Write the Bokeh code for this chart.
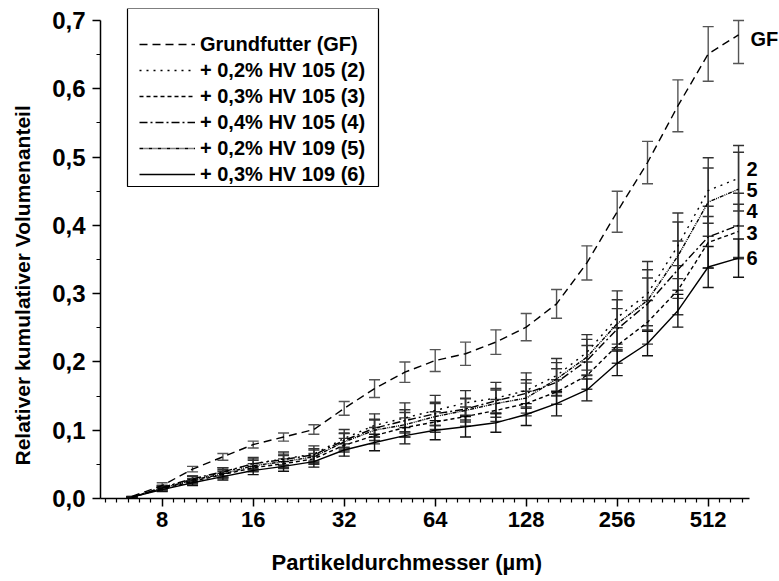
from bokeh.plotting import figure
from bokeh.models import (Range1d, FixedTicker, CustomJSTickFormatter, ColumnDataSource,
                          Whisker, TeeHead, Legend, LegendItem, Label, Title, BoxAnnotation)
from bokeh.embed import file_html
from bokeh.resources import INLINE

# ---------------- data ----------------
diameter_um = [6.35, 8.0, 10.08, 12.7, 16.0, 20.16, 25.4, 32.0, 40.32, 50.8, 64.0, 80.63,
               101.6, 128.0, 161.3, 203.2, 256.0, 322.5, 406.4, 512.0, 645.1]

gf_mean = [0.003, 0.019, 0.043, 0.061, 0.079, 0.090, 0.101, 0.132, 0.161, 0.185, 0.202, 0.212,
           0.229, 0.251, 0.285, 0.345, 0.420, 0.492, 0.575, 0.651, 0.679]
gf_err = [0.0, 0.004, 0.004, 0.005, 0.005, 0.006, 0.007, 0.010, 0.013, 0.015, 0.016, 0.017,
          0.018, 0.020, 0.021, 0.025, 0.030, 0.031, 0.038, 0.040, 0.042]

s2_mean = [0.002, 0.016, 0.028, 0.038, 0.051, 0.058, 0.065, 0.088, 0.107, 0.118, 0.129, 0.140,
           0.147, 0.158, 0.180, 0.214, 0.265, 0.300, 0.370, 0.451, 0.469]
s2_err = [0.0, 0.003, 0.005, 0.007, 0.009, 0.010, 0.012, 0.013, 0.017, 0.022, 0.022, 0.018,
          0.023, 0.026, 0.025, 0.026, 0.039, 0.047, 0.048, 0.048, 0.048]

s3_mean = [0.002, 0.014, 0.025, 0.035, 0.045, 0.051, 0.058, 0.078, 0.092, 0.104, 0.112, 0.120,
           0.129, 0.139, 0.156, 0.180, 0.224, 0.258, 0.305, 0.375, 0.391]
s3_err = [0.0, 0.003, 0.004, 0.005, 0.006, 0.007, 0.008, 0.010, 0.012, 0.014, 0.015, 0.014,
          0.016, 0.018, 0.018, 0.020, 0.026, 0.032, 0.036, 0.038, 0.040]

s4_mean = [0.002, 0.016, 0.029, 0.039, 0.051, 0.057, 0.064, 0.085, 0.103, 0.114, 0.124, 0.131,
           0.143, 0.154, 0.170, 0.202, 0.248, 0.285, 0.335, 0.383, 0.400]
s4_err = [0.0, 0.003, 0.004, 0.006, 0.007, 0.008, 0.009, 0.011, 0.013, 0.016, 0.017, 0.016,
          0.018, 0.020, 0.020, 0.022, 0.030, 0.038, 0.042, 0.045, 0.047]

s5_mean = [0.002, 0.015, 0.027, 0.036, 0.048, 0.054, 0.061, 0.083, 0.100, 0.108, 0.120, 0.129,
           0.139, 0.147, 0.175, 0.207, 0.256, 0.290, 0.355, 0.434, 0.453]
s5_err = [0.0, 0.003, 0.005, 0.006, 0.008, 0.009, 0.010, 0.012, 0.015, 0.018, 0.019, 0.017,
          0.020, 0.022, 0.024, 0.026, 0.035, 0.045, 0.050, 0.050, 0.054]

s6_mean = [0.002, 0.013, 0.023, 0.032, 0.041, 0.047, 0.054, 0.071, 0.082, 0.092, 0.100, 0.105,
           0.111, 0.123, 0.139, 0.159, 0.198, 0.227, 0.275, 0.339, 0.352]
s6_err = [0.0, 0.003, 0.004, 0.005, 0.006, 0.007, 0.008, 0.009, 0.012, 0.012, 0.014, 0.015,
          0.014, 0.016, 0.018, 0.016, 0.018, 0.018, 0.024, 0.030, 0.028]

legend_labels = ["Grundfutter (GF)", "+ 0,2% HV 105 (2)", "+ 0,3% HV 105 (3)",
                 "+ 0,4% HV 105 (4)", "+ 0,2% HV 109 (5)", "+ 0,3% HV 109 (6)"]
end_labels = ["GF", "2", "3", "4", "5", "6"]

x_ticks = [8, 16, 32, 64, 128, 256, 512]
y_ticks = [0.0, 0.1, 0.2, 0.3, 0.4, 0.5, 0.6, 0.7]
x_title = "Partikeldurchmesser (µm)"
y_title = "Relativer kumulativer Volumenanteil"

# ---------------- styles / layout ----------------
FONT = "Liberation Sans"
dashes = ["8 5", "2 5", "4 3", "8 3 2 3", "4 1 1 1 1 1", "solid"]
bar_colors = ["#555555", "#333333", "#333333", "#333333", "#333333", "#111111"]
label_dy = [-4, 9, -1, 14, -1, 0]   # pixel shift (up positive) of end labels
label_dx = [12, 8, 8, 8, 8, 8]

X_AXIS_START, X_AXIS_END = 5.0, 700.0
Y_AXIS_START, Y_AXIS_END = 0.0, 0.7
PX_PER_OCTAVE = 91.0
FRAME_LEFT, FRAME_RIGHT = 100, 779
FRAME_TOP, AXIS_TOP, FRAME_BOTTOM = 8, 20, 498
x_view_end = X_AXIS_START * 2 ** ((FRAME_RIGHT - FRAME_LEFT) / PX_PER_OCTAVE)
y_view_end = Y_AXIS_END * (FRAME_BOTTOM - FRAME_TOP) / (FRAME_BOTTOM - AXIS_TOP)

series = [(gf_mean, gf_err), (s2_mean, s2_err), (s3_mean, s3_err),
          (s4_mean, s4_err), (s5_mean, s5_err), (s6_mean, s6_err)]

p = figure(width=779, height=581, x_axis_type="log",
           x_range=Range1d(X_AXIS_START, x_view_end), y_range=Range1d(Y_AXIS_START, y_view_end),
           output_backend="svg", toolbar_location=None,
           min_border_left=FRAME_LEFT, min_border_right=779 - FRAME_RIGHT,
           min_border_top=FRAME_TOP, min_border_bottom=581 - FRAME_BOTTOM)
p.outline_line_color = None
p.xgrid.visible = False
p.ygrid.visible = False
p.background_fill_color = "white"
p.border_fill_color = "white"

# legend frame (screen units, relative to the plot frame, measured from its bottom-left)
p.add_layout(BoxAnnotation(left=27, right=278, bottom=FRAME_BOTTOM - 186, top=FRAME_BOTTOM - 8,
                           left_units="screen", right_units="screen",
                           bottom_units="screen", top_units="screen",
                           fill_color="white", fill_alpha=1.0,
                           line_color="black", line_alpha=1.0, line_width=1.2,
                           level="annotation"))

legend_items = []
for i, (m, e) in enumerate(series):
    # error bars are cut at the top of the value axis, as in the original
    upper = [min(a + b, Y_AXIS_END) for a, b in zip(m, e)]
    lower = [a - b for a, b in zip(m, e)]
    src = ColumnDataSource(dict(x=diameter_um, y=m, upper=upper, lower=lower))
    w = Whisker(source=src, base="x", upper="upper", lower="lower",
                line_color=bar_colors[i], line_width=1.4,
                upper_head=TeeHead(size=11, line_color=bar_colors[i], line_width=1.4),
                lower_head=TeeHead(size=11, line_color=bar_colors[i], line_width=1.4))
    p.add_layout(w)
    r = p.line("x", "y", source=src, line_color="black", line_width=1.4,
               line_dash=dashes[i])
    legend_items.append(LegendItem(label=legend_labels[i], renderers=[r]))

    # label at the end of each curve
    p.add_layout(Label(x=diameter_um[-1], y=m[-1], text=end_labels[i],
                       x_offset=label_dx[i], y_offset=label_dy[i],
                       text_font=FONT, text_font_style="bold", text_font_size="20px",
                       text_baseline="middle", text_align="left", text_color="black"))

legend = Legend(items=legend_items, location=(39, 312),
                padding=12, spacing=2, glyph_width=56, glyph_height=24,
                label_height=24, label_standoff=5,
                label_text_font=FONT, label_text_font_style="bold",
                label_text_font_size="20px", label_text_color="black",
                border_line_color=None, background_fill_alpha=0.0)
p.add_layout(legend, "center")

# axes
xa = p.xaxis[0]
minor_x = [2 ** (k + j / 8) for k in range(2, 10) for j in range(1, 8)]
minor_x = [v for v in minor_x if X_AXIS_START <= v <= X_AXIS_END]
xa.ticker = FixedTicker(ticks=x_ticks, minor_ticks=minor_x)
xa.formatter = CustomJSTickFormatter(code="return Math.round(tick).toString();")
xa.bounds = (X_AXIS_START, X_AXIS_END)
ya = p.yaxis[0]
ya.ticker = FixedTicker(ticks=y_ticks, minor_ticks=[0.05, 0.15, 0.25, 0.35, 0.45, 0.55, 0.65])
ya.formatter = CustomJSTickFormatter(code="return tick.toFixed(1).replace('.', ',');")
ya.bounds = (Y_AXIS_START, Y_AXIS_END)

for ax in (xa, ya):
    ax.axis_line_color = "black"
    ax.axis_line_width = 1.5
    ax.major_tick_line_color = "black"
    ax.minor_tick_line_color = "black"
    ax.major_tick_line_width = 1.5
    ax.minor_tick_line_width = 1.2
    ax.major_tick_in = 0
    ax.minor_tick_in = 0
    ax.major_tick_out = 8
    ax.minor_tick_out = 4
    ax.major_label_text_font = FONT
    ax.major_label_text_font_style = "bold"
    ax.major_label_text_color = "black"
    # invisible spacer label that widens the axis panel before the title
    ax.axis_label = "\u00a0"
    ax.axis_label_text_font_size = "8px"
xa.major_label_text_font_size = "22px"
ya.major_label_text_font_size = "24px"
xa.major_label_standoff = 5
ya.major_label_standoff = 7
xa.axis_label_standoff = 5
ya.axis_label_standoff = 3

p.add_layout(Title(text=x_title, align="left", offset=171, standoff=2,
                   text_font=FONT, text_font_style="bold", text_font_size="22px",
                   text_color="black"), "below")
p.add_layout(Title(text=y_title, align="left", offset=33, standoff=2,
                   text_font=FONT, text_font_style="bold", text_font_size="21px",
                   text_color="black"), "left")

open("out.html", "w").write(file_html(p, INLINE))
